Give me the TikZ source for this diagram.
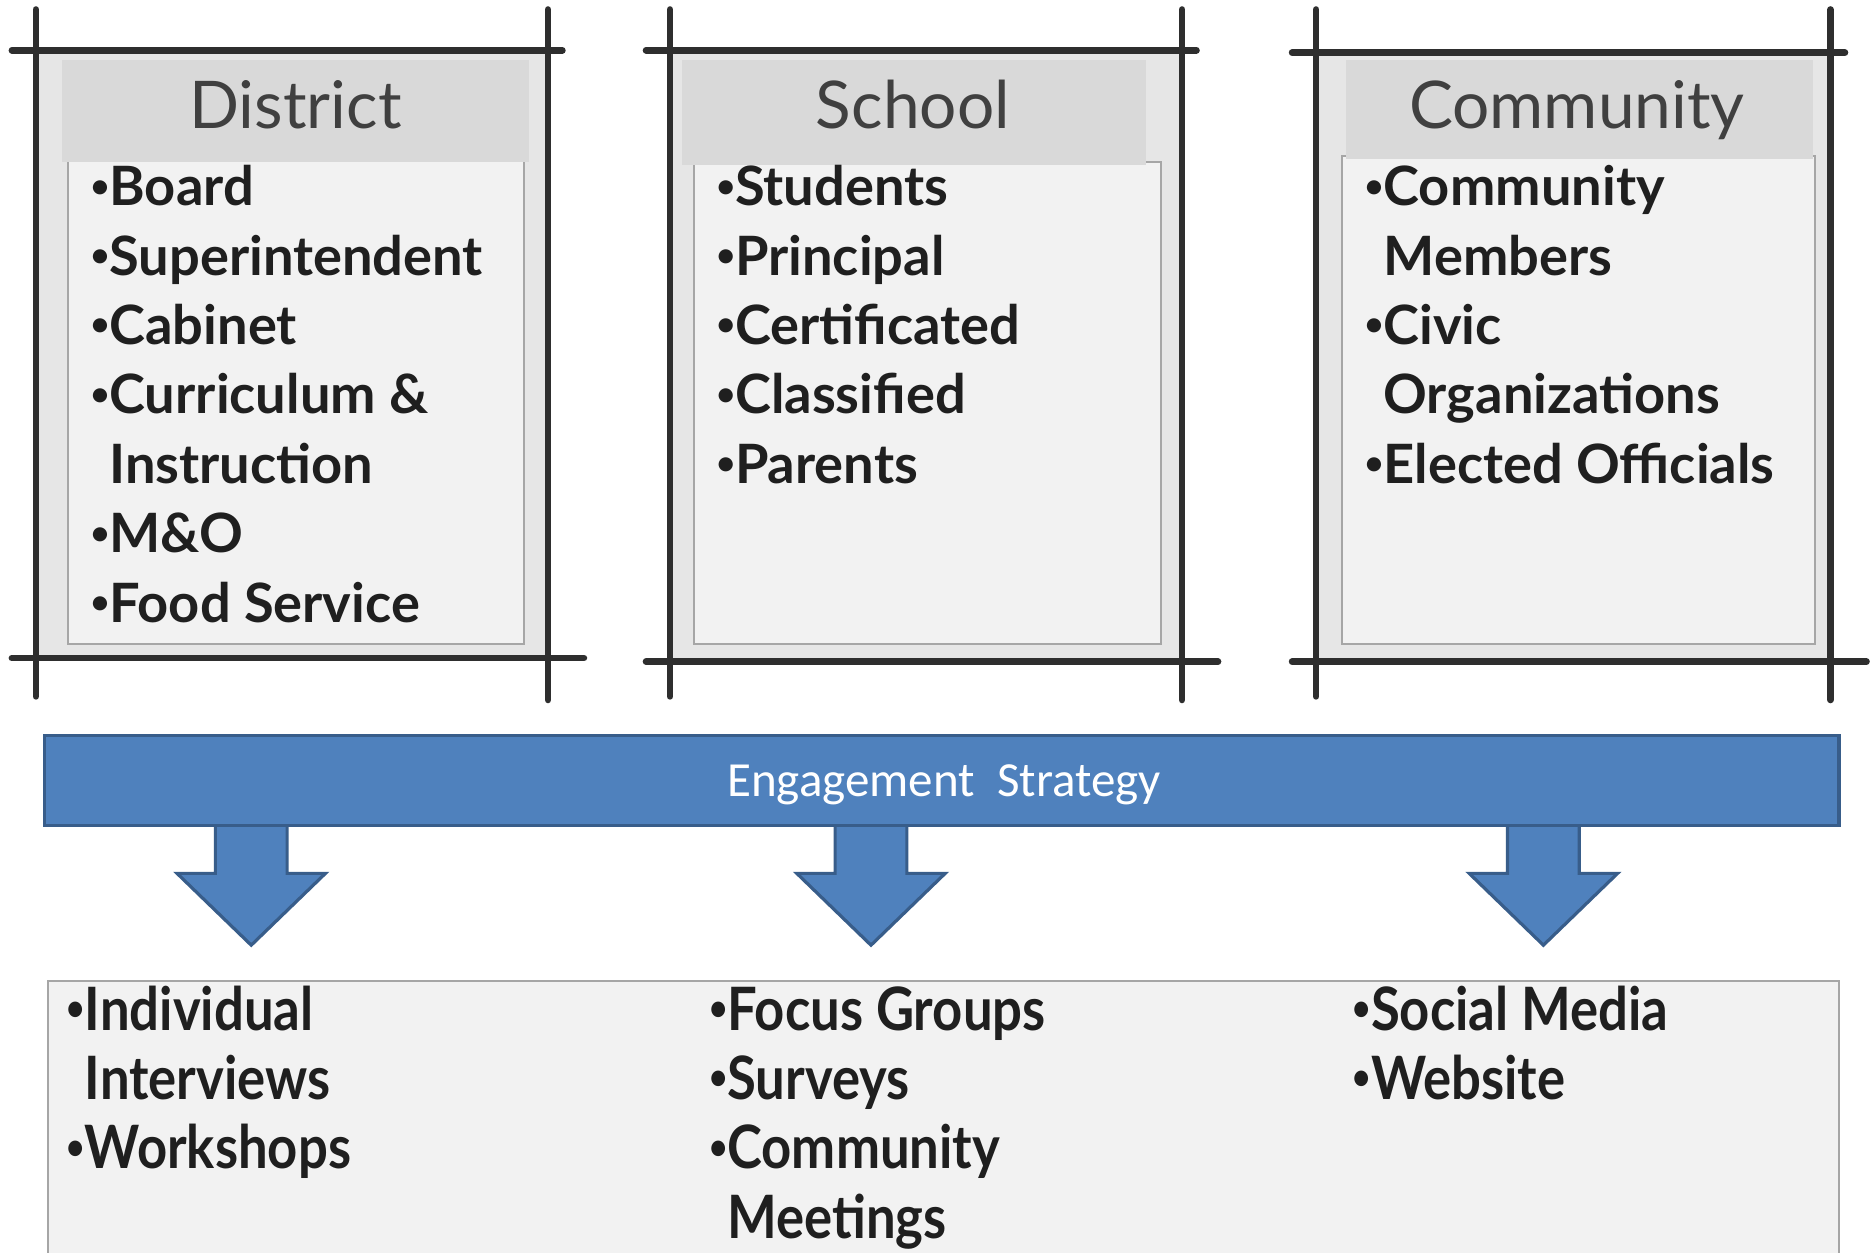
\documentclass[tikz,border=0pt]{standalone}
\usepackage{fontspec}
\setmainfont{Lato}
\newfontfamily\narrowfont[FakeStretch=0.88]{Lato}
\newfontfamily\barfont{Carlito}
\definecolor{framegray}{HTML}{E6E6E6}
\definecolor{headgray}{HTML}{D9D9D9}
\definecolor{listgray}{HTML}{F2F2F2}
\definecolor{edgegray}{HTML}{A6A6A6}
\definecolor{barblue}{HTML}{4F81BD}
\definecolor{baredge}{HTML}{385D8A}
\newcommand{\itemdot}{\raisebox{0.16em}{\scalebox{0.6}{\textbullet}}}

\begin{document}
\begin{tikzpicture}[x=0.3pt,y=-0.3pt,
    frameline/.style={line width=1.7pt,draw=black!82,line cap=round},
    listbox/.style={fill=listgray,draw=edgegray,line width=0.5pt},
    bar/.style={fill=barblue,draw=baredge,line width=0.8pt},
    title/.style={anchor=base,text=black!75,font=\fontsize{16.5}{20}\selectfont},
    item/.style={anchor=base west,inner sep=0pt,text=black!88,font=\fontsize{13.6}{16}\selectfont\bfseries},
    method/.style={anchor=base west,inner sep=0pt,text=black!88,font=\fontsize{15}{18}\selectfont\narrowfont\bfseries}]
  \useasboundingbox (0,0) rectangle (1568,1047);

  % the three sketched frames
  \foreach \fl/\fr/\ft/\fb/\hl/\hr/\hb/\cl/\cr in {30/458/42/550/52/442/135/57/438,
      560/988/42/553/570/958/138/580/970,1100/1530/44/553/1125/1515/133/1122/1517}
  {
    \fill[framegray] (\fl,\ft) rectangle (\fr,\fb);
    \filldraw[listbox] (\cl,\hb-3) rectangle (\cr,538);
    \fill[headgray] (\hl,50) rectangle (\hr,\hb);
    \draw[frameline] (\fl-20,\ft) -- (\fr+12,\ft);
    \draw[frameline] (\fl-20,\fb) -- (\fr+30,\fb);
    \draw[frameline] (\fl,8) -- (\fl,582);
    \draw[frameline] (\fr,8) -- (\fr,585);
  }

  \node[title] (district) at (247,107) {District};
  \node[title] (school) at (763,107) {School};
  \node[title] (community) at (1318,107) {Community};

  \foreach \txt [count=\i] in {{\itemdot Board},{\itemdot Superintendent},{\itemdot Cabinet},
      {\itemdot Curriculum \&},{\phantom{\itemdot}Instruction},{\itemdot M\&O},{\itemdot Food Service}}
    \node[item] (district\i) at (75,114+58*\i) {\txt};
  \foreach \txt [count=\i] in {{\itemdot Students},{\itemdot Principal},{\itemdot Certificated},
      {\itemdot Classified},{\itemdot Parents}}
    \node[item] (school\i) at (598,114+58*\i) {\txt};
  \foreach \txt [count=\i] in {{\itemdot Community},{\phantom{\itemdot}Members},{\itemdot Civic},
      {\phantom{\itemdot}Organizations},{\itemdot Elected Officials}}
    \node[item] (community\i) at (1140,114+58*\i) {\txt};

  % engagement strategy
  \foreach \c in {210,728,1290}
    \filldraw[bar] (\c-30,690) -- (\c-30,730) -- (\c-62,730) -- (\c,790) -- (\c+62,730) -- (\c+30,730) -- (\c+30,690);
  \filldraw[bar] (37,615) rectangle (1537,690);
  \node[anchor=base,text=white,font=\barfont\fontsize{12.3}{15}\selectfont] (strategy) at (789,666) {Engagement\ \ Strategy};

  \filldraw[listbox] (40,820) rectangle (1537,1056);
  \foreach \txt [count=\i] in {{\itemdot Individual},{\phantom{\itemdot}Interviews},{\itemdot Workshops}}
    \node[method] (onesie\i) at (55,803+58*\i) {\txt};
  \foreach \txt [count=\i] in {{\itemdot Focus Groups},{\itemdot Surveys},{\itemdot Community},
      {\phantom{\itemdot}Meetings}}
    \node[method] (group\i) at (592,803+58*\i) {\txt};
  \foreach \txt [count=\i] in {{\itemdot Social Media},{\itemdot Website}}
    \node[method] (online\i) at (1130,803+58*\i) {\txt};
\end{tikzpicture}
\end{document}
